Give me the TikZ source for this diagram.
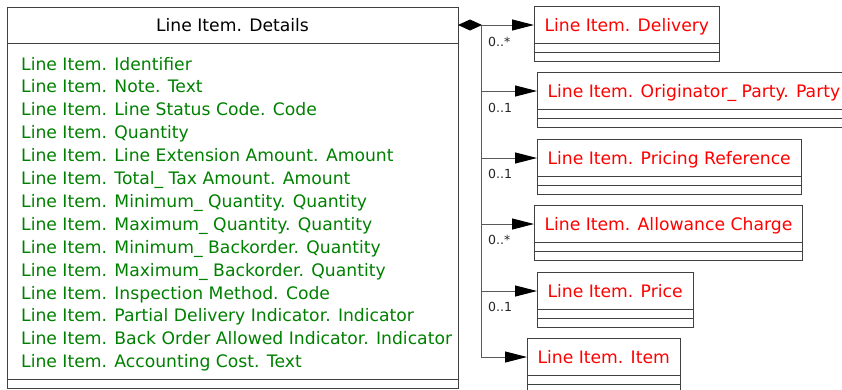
\documentclass[tikz,border=0pt]{standalone}
\usepackage{fontspec}
\setmainfont{DejaVu Sans}
\usepackage{xcolor}
\definecolor{attrgreen}{HTML}{008000}
\definecolor{assocred}{HTML}{FF0000}
\definecolor{frame}{HTML}{404040}
\definecolor{wire}{HTML}{5A5A5A}
\usepackage{tikz}
\usetikzlibrary{arrows.meta, calc}
\tikzset{
    box/.style = {draw=frame, line width=1pt},
    headnode/.style = {box, outer sep=0pt, inner sep=0pt, text height=12.6pt,
                       text depth=0pt, font=\fontsize{17.2}{20}\selectfont},
    classhead/.style = {headnode, anchor=north west, minimum height=37pt,
                        inner xsep=10.5pt, text=assocred},
    attr/.style = {anchor=base west, inner sep=0pt, text=attrgreen,
                   font=\fontsize{17.2}{20}\selectfont},
    mult/.style = {anchor=west, inner sep=0pt, text height=9.1pt, text depth=0pt,
                   font=\fontsize{12.5}{14}\selectfont, text=black!85},
    assoc/.style = {-{Triangle[length=22pt, width=11pt, color=black]},
                    line width=1pt, draw=wire},
    compose/.style = {{Diamond[length=24pt, width=11pt, color=black]}-{Triangle[length=22pt, width=11pt, color=black]},
                      line width=1pt, draw=wire},
}

\begin{document}
\begin{tikzpicture}[x=1pt, y=-1pt]
    \useasboundingbox (0,0) rectangle (842,389);
    % aggregate class
    \node[headnode, anchor=north west, minimum width=451pt, minimum height=36pt]
          (details) at (7,7) {Line Item. Details};
    \draw[box] (details.south west) rectangle (458,379);
    \draw[box] (7,379) rectangle (458,388);
    \foreach \txt [count=\i from 0] in {Line Item. Identifier,
        Line Item. Note. Text,
        Line Item. Line Status Code. Code,
        Line Item. Quantity,
        Line Item. Line Extension Amount. Amount,
        Line Item. Total\_ Tax Amount. Amount,
        Line Item. Minimum\_ Quantity. Quantity,
        Line Item. Maximum\_ Quantity. Quantity,
        Line Item. Minimum\_ Backorder. Quantity,
        Line Item. Maximum\_ Backorder. Quantity,
        Line Item. Inspection Method. Code,
        Line Item. Partial Delivery Indicator. Indicator,
        Line Item. Back Order Allowed Indicator. Indicator,
        Line Item. Accounting Cost. Text}
        \node[attr] (attr\i) at (21,{70+22.9*\i}) {\txt};
    % associated classes
    \node[classhead] (deliv)   at (534,6.5)   {Line Item. Delivery};
    \node[classhead] (orig)    at (537,72.5)  {Line Item. Originator\_ Party. Party};
    \node[classhead] (pricing) at (537,139.5) {Line Item. Pricing Reference};
    \node[classhead] (allow)   at (534,205.5) {Line Item. Allowance Charge};
    \node[classhead] (price)   at (537,272.5) {Line Item. Price};
    \node[classhead] (item)    at (527,338.5) {Line Item. Item};
    \foreach \c in {deliv, orig, pricing, allow, price, item} {
        \draw[box] (\c.south west) rectangle ([yshift=-18pt]\c.south east);
        \draw[box] ([yshift=-9pt]\c.south west) -- ([yshift=-9pt]\c.south east);
    }
    % connectors
    \coordinate (trunk) at (481,25);
    \draw[compose] (details.east) -- (deliv.west);
    \foreach \c in {orig, pricing, allow, price, item}
        \draw[assoc] (trunk) |- (\c.west);
    % multiplicities
    \node[mult] (m1) at (488,42)    {0..*};
    \node[mult] (m2) at (488,107.5) {0..1};
    \node[mult] (m3) at (488,174)   {0..1};
    \node[mult] (m4) at (488,239.5) {0..*};
    \node[mult] (m5) at (488,307)   {0..1};
\end{tikzpicture}
\end{document}
